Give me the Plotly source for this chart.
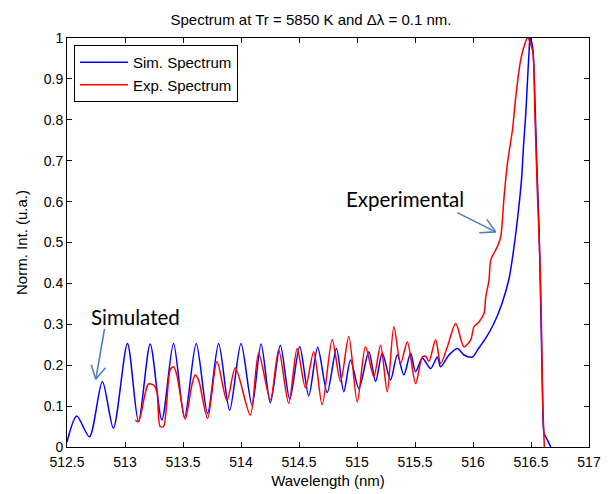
import plotly.graph_objects as go

# simulated spectrum
sim_wl = [512.500, 512.584, 512.693, 512.805, 512.900, 513.021, 513.116, 513.217, 513.318,
          513.418, 513.513, 513.614, 513.712, 513.807, 513.902, 514.000, 514.095, 514.173,
          514.253, 514.339, 514.420, 514.506, 514.584, 514.661, 514.743, 514.823, 514.886,
          514.944, 515.016, 515.102, 515.160, 515.218, 515.289, 515.347, 515.404, 515.462,
          515.505, 515.563, 515.635, 515.693, 515.721, 515.793, 515.865, 515.922, 515.995,
          516.038, 516.110, 516.180, 516.250, 516.311, 516.354, 516.389, 516.418, 516.435,
          516.455, 516.470, 516.484, 516.492, 516.513, 516.533, 516.550, 516.570, 516.580,
          516.590, 516.600, 516.613, 516.642, 516.671]
sim_int = [0.012, 0.076, 0.025, 0.160, 0.046, 0.253, 0.062, 0.252, 0.066,
           0.253, 0.072, 0.253, 0.082, 0.253, 0.090, 0.253, 0.102, 0.252,
           0.108, 0.249, 0.117, 0.246, 0.125, 0.244, 0.133, 0.241, 0.135,
           0.213, 0.143, 0.233, 0.160, 0.229, 0.164, 0.225, 0.176, 0.229,
           0.184, 0.217, 0.192, 0.220, 0.196, 0.225, 0.241, 0.225, 0.220,
           0.237, 0.266, 0.302, 0.351, 0.412, 0.490, 0.571, 0.653, 0.734,
           0.816, 0.897, 0.970, 1.000, 0.980, 0.857, 0.694, 0.530, 0.400,
           0.260, 0.123, 0.033, 0.017, 0.000]

# experimental spectrum
exp_wl = [513.087, 513.116, 513.174, 513.202, 513.245, 513.275, 513.303, 513.332, 513.389,
          513.418, 513.447, 513.519, 513.577, 513.605, 513.634, 513.712, 513.793, 513.879,
          513.951, 514.080, 514.152, 514.253, 514.325, 514.411, 514.484, 514.555, 514.627,
          514.700, 514.786, 514.858, 514.929, 515.002, 515.073, 515.145, 515.203, 515.261,
          515.318, 515.376, 515.434, 515.505, 515.563, 515.592, 515.620, 515.678, 515.721,
          515.779, 515.851, 515.922, 515.980, 516.009, 516.052, 516.095, 516.110, 516.138,
          516.153, 516.210, 516.239, 516.268, 516.297, 516.340, 516.369, 516.406, 516.440,
          516.470, 516.513, 516.533, 516.556, 516.578, 516.590, 516.600, 516.615]
exp_int = [0.066, 0.062, 0.131, 0.154, 0.152, 0.135, 0.050, 0.050, 0.188,
           0.196, 0.176, 0.068, 0.152, 0.176, 0.164, 0.070, 0.209, 0.113,
           0.194, 0.078, 0.229, 0.115, 0.237, 0.107, 0.241, 0.145, 0.233,
           0.103, 0.262, 0.160, 0.270, 0.110, 0.245, 0.172, 0.249, 0.135,
           0.294, 0.204, 0.257, 0.155, 0.220, 0.222, 0.209, 0.262, 0.204,
           0.245, 0.302, 0.245, 0.262, 0.294, 0.306, 0.327, 0.367, 0.408,
           0.457, 0.490, 0.514, 0.612, 0.694, 0.775, 0.857, 0.938, 0.979,
           1.000, 0.970, 0.820, 0.612, 0.449, 0.300, 0.123, 0.000]

x_ticks = [512.5, 513, 513.5, 514, 514.5, 515, 515.5, 516, 516.5, 517]
y_ticks = [0, 0.1, 0.2, 0.3, 0.4, 0.5, 0.6, 0.7, 0.8, 0.9, 1]

TICK_FONT = dict(family="Liberation Sans, Arial", size=14, color="black")
LABEL_FONT = dict(family="Liberation Sans, Arial", size=15, color="black")
NOTE_FONT = dict(family="Lato, Open Sans", size=20.5, color="black")
ARROW = "#4F81BD"

fig = go.Figure()
fig.add_trace(go.Scatter(x=sim_wl, y=sim_int, mode="lines", name="Sim. Spectrum",
                         line=dict(color="#0000FF", width=1.5, shape="spline", smoothing=0.8)))
fig.add_trace(go.Scatter(x=exp_wl, y=exp_int, mode="lines", name="Exp. Spectrum",
                         line=dict(color="#FF0000", width=1.5, shape="spline", smoothing=0.8)))

axis = dict(showline=True, linecolor="black", linewidth=1, mirror="ticks",
            ticks="inside", ticklen=5, tickcolor="black", showgrid=False,
            zeroline=False, tickfont=TICK_FONT, automargin=False)
fig.update_xaxes(range=[512.5, 517], tickvals=x_ticks, ticktext=[f"{v:g}" for v in x_ticks],
                 ticklabelstandoff=2,
                 title=dict(text="Wavelength (nm)", font=LABEL_FONT, standoff=6), **axis)
fig.update_yaxes(range=[0, 1], tickvals=y_ticks, ticktext=[f"{v:g}" for v in y_ticks],
                 title=dict(text="Norm. Int. (u.a.)", font=LABEL_FONT, standoff=12), **axis)

# text labels
fig.add_annotation(x=513.087, y=0.318, text="Simulated", showarrow=False, font=NOTE_FONT)
fig.add_annotation(x=515.41, y=0.606, text="Experimental", showarrow=False, font=NOTE_FONT)

# open arrows: shaft + two arms, all ending at the tip
def open_arrow(x, y, shaft, arms):
    for ax, ay in [shaft] + arms:
        fig.add_annotation(x=x, y=y, ax=ax, ay=ay, text="", showarrow=True,
                           arrowhead=0, arrowwidth=1.6, arrowcolor=ARROW,
                           standoff=0, startstandoff=0)

open_arrow(512.748, 0.1655, (9, -52), [(-5, -16), (11, -13)])
open_arrow(516.196, 0.526, (-40, -20), [(-10, -14), (-18, 1)])

# page body has an 8px margin, so the figure is a bit smaller than the window
fig.update_layout(
    width=605, height=486,
    margin=dict(l=59, r=24, t=30, b=47),
    paper_bgcolor="white", plot_bgcolor="white",
    title=dict(text="Spectrum at Tr = 5850 K and Δλ = 0.1 nm.", font=LABEL_FONT,
               x=303 / 605, xref="container", xanchor="center",
               y=1 - 12 / 486, yref="container", yanchor="middle"),
    legend=dict(x=0.0134, y=0.983, xanchor="left", yanchor="top",
                bordercolor="black", borderwidth=1, bgcolor="white",
                font=LABEL_FONT, tracegroupgap=0, itemwidth=48),
    showlegend=True,
)

fig.write_html("out.html")
